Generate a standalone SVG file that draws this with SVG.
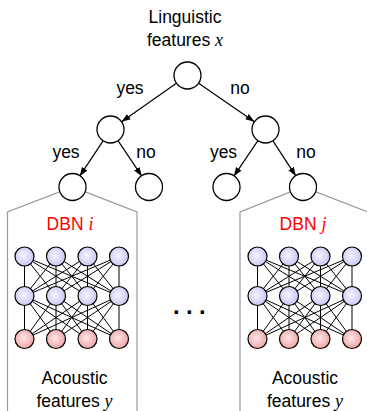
<svg xmlns="http://www.w3.org/2000/svg" width="367" height="411" viewBox="0 0 367 411">
<defs>
<style>
text{font-family:"Liberation Sans",Arial,sans-serif;font-size:17.5px;fill:#000}
.m{font-family:"Liberation Serif","Times New Roman",serif;font-style:italic;font-size:18px}
.red{fill:#ff0000}
.tn{fill:#fff;stroke:#000;stroke-width:1.3}
.arr{stroke:#000;stroke-width:1.2;fill:none;marker-end:url(#ah)}
.box{fill:none;stroke:#999;stroke-width:1.2}
.w{stroke:#000;stroke-width:1}
.b{fill:url(#gb);stroke:#000;stroke-width:1.2}
.p{fill:url(#gp);stroke:#000;stroke-width:1.2}
</style>
<marker id="ah" markerUnits="userSpaceOnUse" markerWidth="10" markerHeight="8" refX="9" refY="3.25" orient="auto">
<path d="M0,0 L9,3.25 L0,6.5 z" fill="#000"/>
</marker>
<radialGradient id="gb" cx="45%" cy="45%" r="60%">
<stop offset="0" stop-color="#f4f4ff"/>
<stop offset="1" stop-color="#c4c4f2"/>
</radialGradient>
<radialGradient id="gp" cx="45%" cy="45%" r="60%">
<stop offset="0" stop-color="#fde6e6"/>
<stop offset="1" stop-color="#eea0a0"/>
</radialGradient>
</defs>
<rect width="367" height="411" fill="#fff"/>

<g id="title">
<text x="185" y="22.5" text-anchor="middle">Linguistic</text>
<text x="185" y="46" text-anchor="middle">features <tspan class="m">x</tspan></text>
</g>

<g id="boxes">
<polyline class="box" points="7.5,412 7.5,212 72.5,187 137,212 137,412"/>
<polyline class="box" points="240,412 240,212 303,187 368,212"/>
</g>

<g id="connectors">
<line class="arr" x1="176.4" y1="83.3" x2="121.6" y2="121.8"/>
<line class="arr" x1="198.6" y1="83.2" x2="254.4" y2="121.8"/>
<line class="arr" x1="103.1" y1="140.8" x2="79.7" y2="176.2"/>
<line class="arr" x1="118" y1="140.7" x2="141.8" y2="176.2"/>
<line class="arr" x1="257.9" y1="140.7" x2="233.8" y2="176.3"/>
<line class="arr" x1="272.9" y1="140.8" x2="295.9" y2="176.1"/>
<text x="130" y="94" text-anchor="middle">yes</text>
<text x="240" y="94" text-anchor="middle">no</text>
<text x="66" y="158" text-anchor="middle">yes</text>
<text x="146" y="158" text-anchor="middle">no</text>
<text x="223.5" y="158" text-anchor="middle">yes</text>
<text x="306" y="158" text-anchor="middle">no</text>
</g>

<g id="root"><circle class="tn" cx="187.5" cy="75.5" r="13.5"/></g>
<g id="n-left"><circle class="tn" cx="110.5" cy="129.5" r="13.5"/></g>
<g id="n-right"><circle class="tn" cx="265.5" cy="129.5" r="13.5"/></g>
<g id="leaf1"><circle class="tn" cx="72.5" cy="187" r="13.5"/></g>
<g id="leaf2"><circle class="tn" cx="149" cy="187" r="13.5"/></g>
<g id="leaf3"><circle class="tn" cx="226.5" cy="187" r="13.5"/></g>
<g id="leaf4"><circle class="tn" cx="303" cy="187" r="13.5"/></g>

<g id="dbn-i">
<text x="70" y="229.5" text-anchor="middle" class="red">DBN <tspan class="m red">i</tspan></text>
<g class="w">
<path d="M24.5,256.5L24.5,296M24.5,256.5L56,296M24.5,256.5L87.5,296M24.5,256.5L119,296M56,256.5L24.5,296M56,256.5L56,296M56,256.5L87.5,296M56,256.5L119,296M87.5,256.5L24.5,296M87.5,256.5L56,296M87.5,256.5L87.5,296M87.5,256.5L119,296M119,256.5L24.5,296M119,256.5L56,296M119,256.5L87.5,296M119,256.5L119,296"/>
<path d="M24.5,296L24.5,339M24.5,296L56,339M24.5,296L87.5,339M24.5,296L119,339M56,296L24.5,339M56,296L56,339M56,296L87.5,339M56,296L119,339M87.5,296L24.5,339M87.5,296L56,339M87.5,296L87.5,339M87.5,296L119,339M119,296L24.5,339M119,296L56,339M119,296L87.5,339M119,296L119,339"/>
</g>
<circle class="b" cx="24.5" cy="256.5" r="9.5"/><circle class="b" cx="56" cy="256.5" r="9.5"/><circle class="b" cx="87.5" cy="256.5" r="9.5"/><circle class="b" cx="119" cy="256.5" r="9.5"/>
<circle class="b" cx="24.5" cy="296" r="9.5"/><circle class="b" cx="56" cy="296" r="9.5"/><circle class="b" cx="87.5" cy="296" r="9.5"/><circle class="b" cx="119" cy="296" r="9.5"/>
<circle class="p" cx="24.5" cy="339" r="9.5"/><circle class="p" cx="56" cy="339" r="9.5"/><circle class="p" cx="87.5" cy="339" r="9.5"/><circle class="p" cx="119" cy="339" r="9.5"/>
<text x="74.5" y="383.5" text-anchor="middle">Acoustic</text>
<text x="74.5" y="406.5" text-anchor="middle">features <tspan class="m">y</tspan></text>
</g>

<g id="dbn-j">
<text x="303" y="229.5" text-anchor="middle" class="red">DBN <tspan class="m red">j</tspan></text>
<g class="w">
<path d="M257.5,256.5L257.5,296M257.5,256.5L289,296M257.5,256.5L320.5,296M257.5,256.5L352,296M289,256.5L257.5,296M289,256.5L289,296M289,256.5L320.5,296M289,256.5L352,296M320.5,256.5L257.5,296M320.5,256.5L289,296M320.5,256.5L320.5,296M320.5,256.5L352,296M352,256.5L257.5,296M352,256.5L289,296M352,256.5L320.5,296M352,256.5L352,296"/>
<path d="M257.5,296L257.5,339M257.5,296L289,339M257.5,296L320.5,339M257.5,296L352,339M289,296L257.5,339M289,296L289,339M289,296L320.5,339M289,296L352,339M320.5,296L257.5,339M320.5,296L289,339M320.5,296L320.5,339M320.5,296L352,339M352,296L257.5,339M352,296L289,339M352,296L320.5,339M352,296L352,339"/>
</g>
<circle class="b" cx="257.5" cy="256.5" r="9.5"/><circle class="b" cx="289" cy="256.5" r="9.5"/><circle class="b" cx="320.5" cy="256.5" r="9.5"/><circle class="b" cx="352" cy="256.5" r="9.5"/>
<circle class="b" cx="257.5" cy="296" r="9.5"/><circle class="b" cx="289" cy="296" r="9.5"/><circle class="b" cx="320.5" cy="296" r="9.5"/><circle class="b" cx="352" cy="296" r="9.5"/>
<circle class="p" cx="257.5" cy="339" r="9.5"/><circle class="p" cx="289" cy="339" r="9.5"/><circle class="p" cx="320.5" cy="339" r="9.5"/><circle class="p" cx="352" cy="339" r="9.5"/>
<text x="305" y="383.5" text-anchor="middle">Acoustic</text>
<text x="305" y="406.5" text-anchor="middle">features <tspan class="m">y</tspan></text>
</g>

<g id="ellipsis">
<text x="192.5" y="314" text-anchor="middle" style="font-size:24px;font-weight:bold;letter-spacing:6.3px">...</text>
</g>
</svg>
